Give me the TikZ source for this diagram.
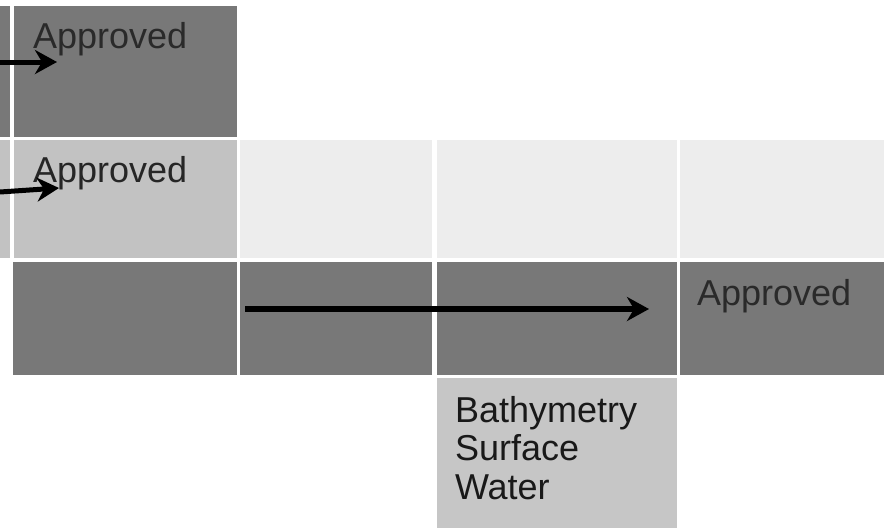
\documentclass[tikz,border=0pt]{standalone}
\usepackage{fontspec}
\setmainfont{Liberation Sans}
\usetikzlibrary{arrows.meta}
\definecolor{darkcell}{HTML}{787878}
\definecolor{midcell}{HTML}{C2C2C2}
\definecolor{lightcell}{HTML}{EDEDED}
\definecolor{lowcell}{HTML}{C6C6C6}
\definecolor{txtdark}{HTML}{2A2A2A}
\begin{document}
\begin{tikzpicture}[x=1pt,y=-1pt,
  cellbox/.style={draw=none, inner sep=0pt, outer sep=0pt, anchor=north west},
  lbl/.style={inner sep=0pt, outer sep=0pt, anchor=base west, font=\fontsize{36}{38.5}\selectfont},
  arr/.style={line width=6pt, -{Stealth[length=22pt,width=24pt,inset=7pt]}, black}]
\useasboundingbox (0,0) rectangle (884,528);
% row 1
\node[cellbox, fill=darkcell, minimum width=10pt, minimum height=131pt] (l1) at (0,6) {};
\node[cellbox, fill=darkcell, minimum width=223pt, minimum height=131pt] (r1c1) at (14,6) {};
% row 2
\node[cellbox, fill=midcell, minimum width=10pt, minimum height=118pt] (l2) at (0,140) {};
\node[cellbox, fill=midcell, minimum width=223pt, minimum height=118pt] (r2c1) at (14,140) {};
\node[cellbox, fill=lightcell, minimum width=192pt, minimum height=118pt] (r2c2) at (240,140) {};
\node[cellbox, fill=lightcell, minimum width=240pt, minimum height=118pt] (r2c3) at (437,140) {};
\node[cellbox, fill=lightcell, minimum width=204pt, minimum height=118pt] (r2c4) at (680,140) {};
% row 3
\node[cellbox, fill=darkcell, minimum width=224pt, minimum height=113pt] (r3c1) at (13,262) {};
\node[cellbox, fill=darkcell, minimum width=192pt, minimum height=113pt] (r3c2) at (240,262) {};
\node[cellbox, fill=darkcell, minimum width=240pt, minimum height=113pt] (r3c3) at (437,262) {};
\node[cellbox, fill=darkcell, minimum width=204pt, minimum height=113pt] (r3c4) at (680,262) {};
% row 4
\node[cellbox, fill=lowcell, minimum width=240pt, minimum height=150pt] (r4c3) at (437,378) {};
% texts
\node[lbl, text=txtdark] (t1) at (33,48) {Approved};
\node[lbl, text=black!85] (t2) at (33,182) {Approved};
\node[lbl, text=txtdark] (t3) at (697,305) {Approved};
\node[lbl, text=black!90, align=left, anchor=north west] (t4) at (455,396)
  {Bathymetry\\Surface\\Water};
% arrows
\coordinate (a1s) at (0,62);
\coordinate (a1e) at (57,62);
\coordinate (a2s) at (0,192);
\coordinate (a2e) at (59,188);
\coordinate (a3s) at (245,309);
\coordinate (a3e) at (649,309);
\draw[arr, line width=5pt] (a1s) -- (a1e);
\draw[arr, line width=5pt] (a2s) -- (a2e);
\draw[arr] (a3s) -- (a3e);
\end{tikzpicture}
\end{document}
